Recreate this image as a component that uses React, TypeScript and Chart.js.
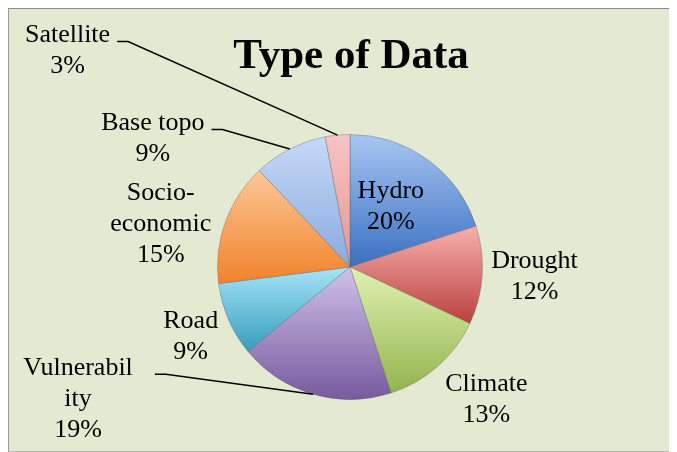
import { useEffect, useRef } from "react";
import { Chart, registerables } from "chart.js";

Chart.register(...registerables);

const title = "Type of Data";
const categories = ["Hydro", "Drought", "Climate", "Vulnerability", "Road", "Socio-economic", "Base topo", "Satellite"];
const values = [20, 12, 13, 19, 9, 15, 9, 3];
const labelLines = [["Hydro"], ["Drought"], ["Climate"], ["Vulnerabil", "ity"], ["Road"], ["Socio-", "economic"], ["Base topo"], ["Satellite"]];
const lightColors = ["#a8c6f4", "#f6b0ae", "#e0f2b2", "#d0c2ea", "#a6e4f8", "#fcc898", "#c6daf8", "#f8c4c4"];
const darkColors = ["#3a70c0", "#bc403c", "#92b44c", "#775a9e", "#369cbe", "#f2822a", "#8aaade", "#e29696"];

// label placement (style): radial distance factor + pixel nudges, optional leader line
const placements = [
  { dist: 0.55, dx: -2, dy: -1 },
  { dist: 1.38, dx: 2, dy: -2 },
  { dist: 1.43, dx: 11, dy: -9 },
  { dist: 1.0, dx: -235, dy: 5, leader: { gap: 22 } },
  { dist: 1.31, dx: 0, dy: 1 },
  { dist: 1.43, dx: -11, dy: 21 },
  { dist: 1.0, dx: -137, dy: -10, leader: { gap: 7 } },
  { dist: 1.0, dx: -270, dy: -84, leader: { gap: 7 } },
];

const total = values.reduce((a, b) => a + b, 0);

const labelsPlugin = {
  id: "pieLabels",
  afterDatasetsDraw(chart: any) {
    const ctx = chart.ctx;
    const meta = chart.getDatasetMeta(0);
    const area = chart.chartArea;
    ctx.save();
    // title
    ctx.fillStyle = "#000";
    ctx.textAlign = "center";
    ctx.textBaseline = "alphabetic";
    ctx.font = 'bold 43px "Liberation Serif"';
    ctx.fillText(title, (area.left + area.right) / 2 + 1, 59);

    ctx.font = '26px "Liberation Serif"';
    ctx.textBaseline = "middle";
    ctx.strokeStyle = "#000";
    ctx.lineWidth = 1.5;
    const lh = 31;
    meta.data.forEach((arc: any, i: number) => {
      const { x, y, startAngle, endAngle, outerRadius } = arc.getProps(
        ["x", "y", "startAngle", "endAngle", "outerRadius"],
        true
      );
      const mid = (startAngle + endAngle) / 2;
      const p = placements[i];
      const cx = x + Math.cos(mid) * outerRadius * p.dist + p.dx;
      const cy = y + Math.sin(mid) * outerRadius * p.dist + p.dy;
      const pct = Math.round((values[i] / total) * 100) + "%";
      const lines = [...labelLines[i], pct];
      lines.forEach((t, j) => {
        ctx.fillText(t, cx, cy + (j - (lines.length - 1) / 2) * lh);
      });
      if (p.leader) {
        const w = ctx.measureText(lines[0]).width;
        const ly = cy - ((lines.length - 1) / 2) * lh + 6;
        const sx = cx + w / 2 + p.leader.gap;
        ctx.beginPath();
        ctx.moveTo(sx, ly);
        ctx.lineTo(sx + 11, ly);
        ctx.lineTo(x + Math.cos(mid) * outerRadius, y + Math.sin(mid) * outerRadius);
        ctx.stroke();
      }
    });
    ctx.restore();
  },
};

function sliceFill(c: any) {
  const i = c.dataIndex;
  const chart = c.chart;
  const area = chart.chartArea;
  if (i === undefined || !area) return darkColors[0];
  const cx = (area.left + area.right) / 2;
  const cy = (area.top + area.bottom) / 2;
  const r = Math.min(area.right - area.left, area.bottom - area.top) / 2;
  let acc = 0;
  for (let k = 0; k < i; k++) acc += values[k];
  const a0 = -Math.PI / 2 + (acc / total) * Math.PI * 2;
  const a1 = a0 + (values[i] / total) * Math.PI * 2;
  let ymin = cy;
  let ymax = cy;
  for (let s = 0; s <= 40; s++) {
    const a = a0 + ((a1 - a0) * s) / 40;
    const yy = cy + Math.sin(a) * r;
    ymin = Math.min(ymin, yy);
    ymax = Math.max(ymax, yy);
  }
  const g = chart.ctx.createLinearGradient(0, ymin, 0, ymax);
  g.addColorStop(0, lightColors[i]);
  g.addColorStop(1, darkColors[i]);
  return g;
}

export default function App() {
  const ref = useRef<HTMLCanvasElement | null>(null);
  useEffect(() => {
    document.documentElement.style.overflow = "hidden";
    const chart = new Chart(ref.current as HTMLCanvasElement, {
      type: "pie",
      data: {
        labels: categories,
        datasets: [
          {
            data: values,
            backgroundColor: sliceFill as any,
            borderColor: "rgba(90,90,90,0.35)",
            borderWidth: 1,
          },
        ],
      },
      options: {
        responsive: false,
        animation: false,
        events: [],
        layout: { padding: { left: 208, right: 194, top: 125, bottom: 51 } },
        plugins: {
          legend: { display: false },
          tooltip: { enabled: false },
          title: { display: false },
        },
      },
      plugins: [labelsPlugin],
    });
    return () => chart.destroy();
  }, []);
  return (
    <div
      style={{
        width: 668,
        height: 442,
        background: "#e3ead1",
        borderTop: "1px solid #8a8a8a",
        borderLeft: "1px solid #9a9a9a",
        borderBottom: "1px solid #b4b4b4",
      }}
    >
      <canvas ref={ref} width={668} height={442} style={{ display: "block" }} />
    </div>
  );
}
